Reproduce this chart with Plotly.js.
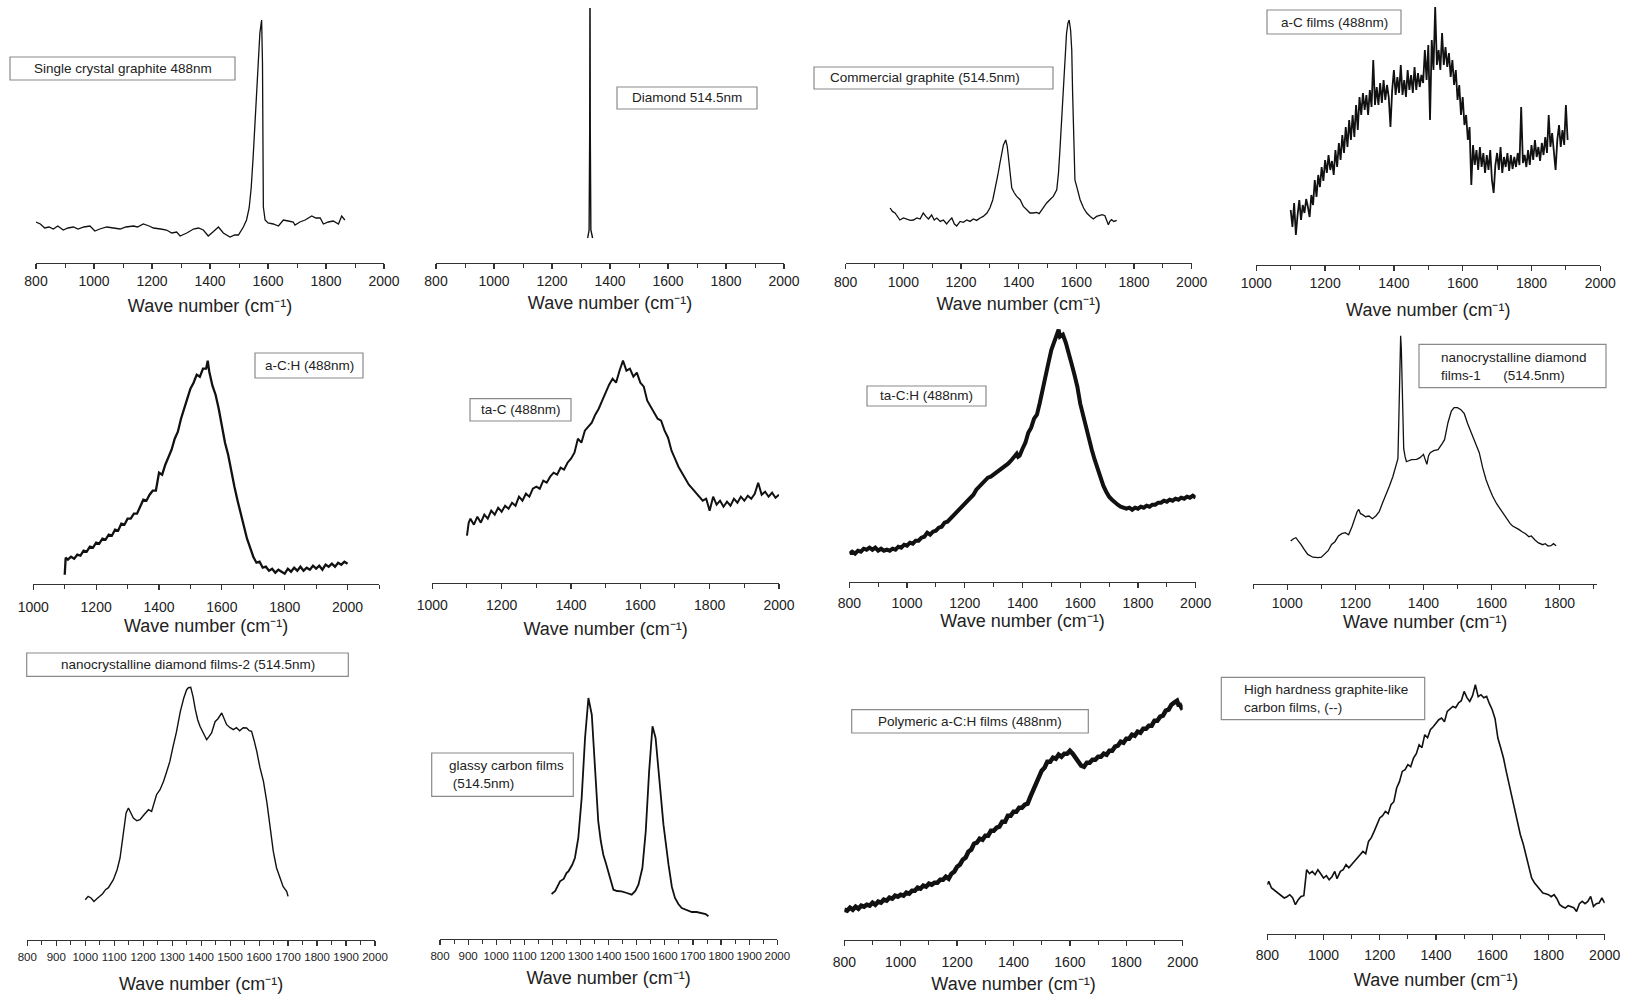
<!DOCTYPE html>
<html><head><meta charset="utf-8">
<script src="https://cdn.plot.ly/plotly-3.0.1.min.js"></script>
<style>html,body{margin:0;padding:0;background:#fff;}#chart{width:1626px;height:994px;}</style>
</head><body><div id="chart"></div>
<script>
// ---- DATA: [wave number (cm-1), intensity (a.u.)] ----
const singleCrystalGraphite = [[800,41],[815,39],[830,35],[845,36],[860,34],[875,37],[894,33],[910,35],[929,36],[945,34],[965,36],[986,37],[1003,32],[1020,34],[1044,36],[1065,35],[1090,34],[1110,36],[1136,37],[1150,36],[1170,39],[1190,37],[1205,35],[1230,34],[1250,33],[1268,30],[1285,31],[1297,27],[1320,30],[1343,34],[1360,35],[1377,33],[1394,27],[1410,31],[1429,36],[1446,30],[1469,26],[1485,28],[1498,28],[1515,36],[1526,43],[1535,55],[1542,75],[1549,107],[1555,140],[1561,170],[1567,205],[1572,230],[1578,243],[1581,200],[1584,56],[1590,43],[1600,40],[1618,39],[1636,37],[1653,43],[1670,42],[1687,41],[1693,38],[1710,41],[1728,43],[1751,47],[1765,45],[1780,45],[1791,39],[1808,41],[1825,42],[1843,39],[1854,47],[1865,43]];

const diamond = [[1323,25],[1328,33],[1330,130],[1331,300],[1332,130],[1334,33],[1340,25]];

const commercialGraphite = [[954,55],[962,51.6],[971,50],[980,46],[988,43],[1000,45],[1012,44],[1024,42.6],[1035,43],[1047,45],[1058,44],[1069,50],[1078,46.6],[1087,44],[1098,48],[1107,43],[1116,45],[1128,41.6],[1139,43],[1150,39],[1160,42.6],[1168,45],[1177,39],[1185,37],[1197,41.6],[1208,40.6],[1220,43],[1231,41.6],[1243,44],[1254,42.6],[1266,45],[1277,46.6],[1290,50],[1300,55],[1310,63],[1318,73],[1327,87],[1335,100],[1341,110],[1347,118],[1355,123],[1360,117],[1364,107],[1370,87],[1376,75],[1385,70],[1393,66.6],[1405,63.3],[1416,56.6],[1428,53.3],[1439,50],[1450,50],[1462,50.6],[1471,49.3],[1480,53.3],[1489,56.6],[1497,60],[1508,63.3],[1520,66.6],[1532,73.3],[1538,90],[1543,113],[1549,146],[1555,180],[1561,210],[1566,230],[1571,240],[1575,243],[1580,233],[1584,213],[1587,170],[1590,130],[1595,83],[1604,73.3],[1613,63.3],[1625,55],[1636,50],[1648,46.6],[1659,44],[1670,46.6],[1682,47.3],[1690,48.3],[1699,47.3],[1705,43.3],[1711,38.3],[1716,41.6],[1722,43.3],[1730,41.6],[1740,42.6]];

const aCFilms = [[1100,55],[1105,38],[1110,62],[1115,30],[1120,50],[1125,65],[1130,45],[1135,60],[1140,52],[1145,66],[1150,58],[1155,48],[1160,70],[1165,60],[1170,85],[1175,68],[1180,90],[1185,78],[1190,98],[1195,84],[1200,105],[1205,92],[1210,110],[1215,95],[1220,104],[1225,90],[1230,115],[1235,98],[1240,122],[1245,105],[1250,130],[1255,112],[1260,138],[1265,118],[1270,145],[1275,125],[1280,150],[1285,128],[1290,160],[1295,135],[1300,168],[1305,150],[1310,172],[1315,155],[1320,170],[1325,150],[1330,175],[1335,158],[1340,205],[1345,160],[1350,178],[1355,160],[1360,182],[1365,162],[1370,185],[1375,165],[1380,180],[1385,168],[1390,138],[1395,175],[1400,195],[1405,170],[1410,188],[1415,172],[1420,200],[1425,170],[1430,185],[1435,168],[1440,195],[1445,175],[1450,190],[1455,172],[1460,198],[1465,175],[1470,192],[1475,178],[1480,190],[1485,182],[1490,215],[1495,185],[1500,220],[1505,145],[1510,225],[1515,195],[1520,258],[1525,200],[1530,215],[1535,195],[1540,232],[1545,200],[1550,218],[1555,198],[1560,212],[1565,188],[1570,205],[1575,180],[1580,195],[1585,165],[1590,180],[1595,150],[1600,168],[1605,140],[1610,150],[1615,125],[1620,138],[1625,80],[1630,120],[1635,100],[1640,115],[1645,95],[1650,118],[1655,98],[1660,112],[1665,92],[1670,110],[1675,95],[1680,115],[1685,85],[1690,72],[1695,100],[1700,112],[1705,95],[1710,118],[1715,92],[1720,108],[1725,98],[1730,112],[1735,94],[1740,110],[1745,96],[1750,108],[1755,98],[1760,112],[1765,100],[1770,158],[1775,102],[1780,110],[1785,98],[1790,115],[1795,100],[1800,120],[1805,105],[1810,125],[1815,108],[1820,118],[1825,104],[1830,122],[1835,110],[1840,128],[1845,112],[1850,150],[1855,118],[1860,132],[1865,112],[1870,95],[1875,125],[1880,140],[1885,118],[1890,135],[1895,120],[1900,160],[1905,125]];

const aCH = [[1100,9],[1103,26],[1110,24],[1120,27],[1130,25],[1140,29],[1150,28],[1160,33],[1170,32],[1180,37],[1190,36],[1200,41],[1210,40],[1220,45],[1230,44],[1240,49],[1250,48],[1260,54],[1270,53],[1280,60],[1290,59],[1300,65],[1310,65],[1320,70],[1330,70],[1340,77],[1350,84],[1360,83],[1370,89],[1380,93],[1390,93],[1400,111],[1410,109],[1420,119],[1430,126],[1440,134],[1450,145],[1460,152],[1470,165],[1480,174],[1490,185],[1500,195],[1510,201],[1520,209],[1530,207],[1540,215],[1550,215],[1555,223],[1560,212],[1570,198],[1580,189],[1590,175],[1600,159],[1610,141],[1620,129],[1630,111],[1640,97],[1650,83],[1660,71],[1670,58],[1680,45],[1690,36],[1700,27],[1710,21],[1720,22],[1730,16],[1740,17],[1750,13],[1760,15],[1770,11],[1780,14],[1790,12],[1800,10],[1810,15],[1820,12],[1830,16],[1840,13],[1850,17],[1860,13],[1870,16],[1880,14],[1890,18],[1900,15],[1910,18],[1920,14],[1930,19],[1940,17],[1950,20],[1960,17],[1970,21],[1980,19],[1990,22],[2000,20]];

const taC = [[1100,47],[1105,60],[1110,64],[1120,58],[1130,66],[1140,60],[1150,68],[1160,64],[1170,72],[1180,68],[1190,75],[1200,71],[1210,77],[1220,74],[1230,80],[1240,77],[1250,86],[1260,82],[1270,89],[1280,86],[1290,94],[1300,96],[1310,94],[1320,102],[1330,100],[1340,106],[1350,110],[1360,108],[1370,115],[1380,113],[1390,120],[1400,124],[1410,130],[1420,144],[1430,140],[1440,152],[1450,156],[1460,160],[1470,168],[1480,174],[1490,182],[1500,190],[1510,198],[1520,204],[1530,200],[1540,212],[1550,222],[1560,212],[1570,214],[1580,206],[1590,210],[1600,200],[1610,196],[1620,182],[1630,176],[1640,170],[1650,164],[1660,162],[1670,152],[1680,145],[1690,132],[1700,124],[1710,116],[1720,110],[1730,104],[1740,98],[1750,94],[1760,90],[1770,86],[1780,82],[1790,84],[1800,72],[1810,86],[1820,78],[1830,82],[1840,76],[1850,81],[1860,77],[1870,84],[1880,80],[1890,86],[1900,82],[1910,87],[1920,84],[1930,89],[1940,100],[1950,88],[1960,91],[1970,86],[1980,90],[1990,85],[2000,88]];

const taCH = [[800,28],[810,30],[820,28],[830,31],[840,30],[850,33],[860,32],[870,34],[880,32],[890,34],[900,31],[910,33],[920,31],[930,32],[940,31],[950,33],[960,32],[970,35],[980,34],[990,37],[1000,36],[1010,39],[1020,38],[1030,41],[1040,41],[1050,44],[1060,45],[1070,49],[1080,47],[1090,50],[1100,51],[1110,54],[1120,55],[1130,59],[1140,60],[1150,63],[1160,66],[1170,69],[1180,72],[1190,74],[1200,77],[1210,80],[1220,84],[1230,87],[1240,92],[1250,95],[1260,98],[1270,100],[1280,104],[1290,105],[1300,107],[1310,109],[1320,112],[1330,113],[1340,116],[1350,118],[1360,121],[1370,124],[1380,128],[1385,125],[1390,126],[1400,133],[1410,139],[1420,149],[1430,154],[1440,163],[1450,167],[1460,179],[1470,191],[1480,206],[1490,219],[1500,232],[1510,241],[1520,248],[1525,252],[1530,245],[1540,247],[1550,239],[1560,230],[1570,218],[1580,207],[1590,195],[1600,178],[1610,166],[1620,152],[1630,142],[1640,132],[1650,122],[1660,113],[1670,104],[1680,96],[1690,90],[1700,85],[1710,82],[1720,79],[1730,77],[1740,75],[1750,74],[1760,73],[1770,74],[1780,72],[1790,74],[1800,73],[1810,75],[1820,74],[1830,76],[1840,75],[1850,77],[1860,77],[1870,79],[1880,79],[1890,81],[1900,80],[1910,82],[1920,81],[1930,83],[1940,82],[1950,84],[1960,83],[1970,85],[1980,84],[1990,86],[2000,84]];

const ncdFilms1 = [[1010,42.7],[1018,45],[1025,46],[1032,43],[1040,39.3],[1050,34],[1060,29.3],[1075,26.5],[1090,26],[1100,26.5],[1110,29.3],[1120,33],[1130,39.3],[1140,42],[1150,47.7],[1160,50],[1170,51],[1180,49],[1190,57],[1200,67.7],[1205,72],[1210,74.3],[1215,70],[1220,69.3],[1230,67],[1240,67.7],[1250,65],[1260,67.7],[1270,72],[1280,81],[1290,89],[1300,97.7],[1310,107],[1320,117.7],[1325,125],[1328,170],[1331,235],[1333,248],[1335,235],[1338,180],[1342,135],[1346,127],[1350,122],[1355,122.7],[1365,124],[1380,124.3],[1390,126],[1400,129.3],[1405,125],[1410,119.3],[1415,128],[1420,131],[1430,133],[1443,134],[1455,140],[1462,144],[1472,161],[1482,172.7],[1490,176],[1500,176],[1510,174],[1520,170],[1530,160],[1544,148],[1554,138],[1564,131],[1574,116],[1584,104],[1594,95],[1603,87.7],[1615,80],[1625,75],[1633,71],[1645,64],[1655,60],[1662,57.7],[1672,56],[1680,54.3],[1690,52],[1700,50],[1710,47],[1717,47.7],[1727,44],[1737,41],[1750,39],[1758,40],[1766,37.7],[1775,38],[1782,40],[1790,38]];

const ncdFilms2 = [[1000,40],[1010,43.3],[1020,41.7],[1030,38.3],[1040,41],[1050,43.3],[1060,46],[1070,50],[1080,52],[1097,60],[1110,70],[1120,81.7],[1131,108],[1141,126.7],[1149,131.7],[1158,126],[1166,121.7],[1178,119],[1189,120],[1200,124],[1210,127],[1218,130],[1229,128.3],[1237,137],[1246,145],[1258,150],[1270,158.3],[1281,168],[1292,178.3],[1303,193],[1315,208],[1328,228],[1340,241.7],[1350,250],[1356,252],[1364,252.4],[1372,243],[1380,230],[1388,220],[1396,213.4],[1408,206],[1419,200],[1427,203],[1436,206.7],[1448,218],[1458,221],[1471,226.7],[1480,220],[1488,215],[1500,212],[1511,210],[1522,212],[1533,209],[1545,212],[1557,211.7],[1566,209],[1574,208.3],[1583,199],[1592,188.3],[1603,172],[1615,158.3],[1627,137],[1638,115],[1649,88.3],[1660,72],[1672,61.7],[1683,53],[1695,48.3],[1700,43.3]];

const glassyCarbon = [[1197,45],[1210,48],[1227,57.7],[1240,60],[1250,66],[1257,67.7],[1270,74],[1280,81],[1292,101],[1304,141],[1316,201],[1328,241],[1340,224.3],[1352,167.7],[1363,117.7],[1372,98],[1381,84.3],[1390,76],[1399,67.7],[1411,54.3],[1417,49.3],[1430,48],[1446,47.7],[1465,46],[1482,44.3],[1495,48],[1506,54.3],[1520,71],[1532,107.7],[1544,167.7],[1556,212.7],[1567,201],[1579,161],[1595,114.3],[1613,74.3],[1625,52],[1636,41],[1648,35],[1660,31],[1678,29],[1696,27],[1713,27],[1731,26],[1745,25],[1755,22.7]];

const polymericACH = [[800,30],[810,29],[820,32],[830,30],[840,33],[850,31],[860,34],[870,33],[880,35],[890,34],[900,37],[910,35],[920,38],[930,37],[940,40],[950,39],[960,42],[970,41],[980,44],[990,43],[1000,45],[1010,44],[1020,47],[1030,46],[1040,49],[1050,49],[1060,52],[1070,51],[1080,54],[1090,53],[1100,56],[1110,55],[1120,57],[1130,57],[1140,60],[1150,60],[1160,63],[1170,61],[1180,66],[1190,68],[1200,73],[1210,75],[1220,80],[1230,82],[1240,88],[1250,90],[1260,96],[1270,97],[1280,101],[1290,100],[1300,104],[1310,104],[1320,109],[1330,109],[1340,112],[1350,113],[1360,118],[1370,118],[1380,124],[1390,124],[1400,128],[1410,128],[1420,132],[1430,132],[1440,135],[1450,136],[1460,143],[1470,149],[1480,157],[1490,162],[1500,169],[1510,172],[1520,178],[1530,178],[1540,182],[1550,181],[1560,185],[1570,183],[1580,186],[1590,186],[1600,189],[1610,186],[1620,182],[1630,177],[1640,174],[1650,173],[1660,177],[1670,177],[1680,180],[1690,180],[1700,183],[1710,183],[1720,186],[1730,185],[1740,189],[1750,189],[1760,193],[1770,194],[1780,198],[1790,197],[1800,201],[1810,201],[1820,205],[1830,204],[1840,208],[1850,207],[1860,211],[1870,211],[1880,214],[1890,214],[1900,219],[1910,219],[1920,223],[1930,224],[1940,229],[1950,230],[1960,235],[1970,237],[1980,239],[1985,235],[1990,235],[2000,230]];

const highHardnessGLC = [[800,49],[805,52.3],[815,45.7],[828,43],[840,40.7],[850,38],[860,35.7],[870,37],[880,39],[890,36],[900,29],[910,34],[920,37.3],[930,38],[940,64],[950,60],[960,62.3],[970,59],[980,64],[990,60],[1000,55.7],[1010,58],[1020,54],[1030,57],[1040,62.3],[1048,55],[1060,62.3],[1070,64],[1080,69],[1090,66],[1100,69],[1110,72],[1120,75.7],[1130,79],[1140,82.3],[1150,80],[1160,92.3],[1170,96],[1180,102.3],[1190,110],[1200,115.7],[1210,118],[1220,122.3],[1230,120],[1240,129],[1250,132],[1260,145.7],[1270,152],[1280,162.3],[1290,164],[1300,169],[1310,167],[1320,175.7],[1330,180],[1340,189],[1350,186],[1360,199],[1370,196],[1380,204],[1390,207],[1400,210.7],[1410,214],[1420,215.7],[1430,212],[1440,222.3],[1450,225],[1460,227.3],[1470,226],[1480,230.7],[1490,233],[1500,242.3],[1510,236],[1520,232.3],[1530,238],[1540,249],[1550,237],[1560,239],[1570,236],[1580,237.3],[1590,230],[1600,224],[1610,215],[1620,195.7],[1630,186],[1640,175.7],[1650,162],[1660,149],[1670,135],[1680,122.3],[1690,110],[1700,99],[1710,90],[1720,79],[1730,67],[1740,55.7],[1750,51],[1760,47.3],[1770,44],[1780,40.7],[1790,40],[1800,39],[1810,37],[1820,39],[1830,35],[1840,29],[1850,27],[1860,25.7],[1870,28],[1880,27.3],[1890,26],[1900,22.3],[1910,30],[1920,32.3],[1930,30],[1940,32.3],[1950,37.3],[1960,27.3],[1970,30],[1980,30.7],[1990,35.7],[2000,30.7]];

const sampleLabels = ['Single crystal graphite 488nm','Diamond 514.5nm','Commercial graphite (514.5nm)','a-C films (488nm)','a-C:H (488nm)','ta-C (488nm)','ta-C:H (488nm)','nanocrystalline diamond<br>films-1\u00a0\u00a0\u00a0\u00a0\u00a0\u00a0(514.5nm)','nanocrystalline diamond films-2 (514.5nm)','glassy carbon films<br>\u00a0(514.5nm)','Polymeric a-C:H films (488nm)','High hardness graphite-like<br>carbon films, (--)'];
const axisTitle = 'Wave number (cm\u207B\u00B9)';

// ---- LAYOUT (pixel geometry of each panel) ----
const W = 1626, H = 994;
const FONT = 'Liberation Sans, Arial, Helvetica, sans-serif';
const panels = [
  {data:singleCrystalGraphite, xr:[800,2000], px:[36,384], axisY:263, top:8, tick0:800, dtick:200, minor:100, tls:0, so:11, lw:1.3, box:[10,57,235,80], tx:'c'},
  {data:diamond, xr:[800,2000], px:[436,784], axisY:263, top:8, tick0:800, dtick:200, minor:100, tls:0, so:8, lw:1.4, box:[617,87,757,109], tx:'c'},
  {data:commercialGraphite, xr:[800,2000], px:[845.7,1191.7], axisY:263, top:8, tick0:800, dtick:200, minor:100, tls:1, so:8, lw:1.3, box:[814,67,1053,89], tx:828},
  {data:aCFilms, xr:[1000,2000], px:[1256.3,1600.3], axisY:265, top:5, tick0:1000, dtick:200, minor:100, tls:0, so:13, lw:1.8, box:[1267,10,1401,34], tx:'c'},
  {data:aCH, xr:[1000,2100], px:[33.3,379], axisY:583.7, top:340, tick0:1000, dtick:200, minor:100, tls:5, so:5, lw:2.3, box:[255,353,363,378], tx:'c'},
  {data:taC, xr:[1000,2000], px:[432.3,779], axisY:582.7, top:330, tick0:1000, dtick:200, minor:100, tls:4, so:10, lw:2, box:[470,398.7,571,421], tx:'c'},
  {data:taCH, xr:[800,2000], px:[849.3,1195.7], axisY:581.7, top:320, tick0:800, dtick:200, minor:100, tls:3, so:0, lw:4, box:[867,386,986,406], tx:'c'},
  {data:ncdFilms1, xr:[900,1910], px:[1253.3,1597], axisY:583.7, top:320, tick0:1000, dtick:200, minor:100, tls:1, so:5, lw:1.3, box:[1419,344.3,1606,387.7], tx:1438.7},
  {data:ncdFilms2, xr:[800,2000], px:[27.3,375], axisY:939.7, top:650, tick0:800, dtick:100, minor:50, tls:1, so:20, lw:1.4, box:[26.7,653,348.3,676.3], tx:'c', small:true},
  {data:glassyCarbon, xr:[800,2000], px:[440,777.3], axisY:939, top:650, tick0:800, dtick:100, minor:50, tls:1, so:10, lw:1.8, box:[431.7,753,573.3,796.3], tx:446.7, small:true},
  {data:polymericACH, xr:[800,2000], px:[844.3,1182.7], axisY:939.7, top:650, tick0:800, dtick:200, minor:100, tls:4, so:20, lw:4.5, box:[851.7,709.7,1088.3,733], tx:'c'},
  {data:highHardnessGLC, xr:[800,2000], px:[1267.3,1604.7], axisY:933.7, top:650, tick0:800, dtick:200, minor:100, tls:3, so:11, lw:1.6, box:[1221.3,677.3,1424.7,719.7], tx:1242}
];

const traces = [], shapes = [], annotations = [];
const layout = {width:W, height:H, margin:{l:0,r:0,t:0,b:0}, showlegend:false,
  paper_bgcolor:'#ffffff', plot_bgcolor:'rgba(0,0,0,0)', font:{family:FONT, color:'#222'},
  shapes:shapes, annotations:annotations};

panels.forEach((p, i) => {
  const s = i === 0 ? '' : String(i + 1);
  traces.push({type:'scatter', mode:'lines', x:p.data.map(d => d[0]), y:p.data.map(d => d[1]),
    xaxis:'x' + s, yaxis:'y' + s, line:{color:'#111', width:p.lw, shape:'linear'}, hoverinfo:'skip', name:sampleLabels[i]});
  layout['xaxis' + s] = {domain:[p.px[0] / W, p.px[1] / W], range:p.xr, anchor:'y' + s,
    showline:true, linecolor:'#333', linewidth:1.2, ticks:'outside', ticklen:5, tickwidth:1.2, tickcolor:'#333',
    tickmode:'linear', tick0:p.tick0, dtick:p.dtick,
    minor:{dtick:p.minor, ticks:'outside', ticklen:4, tickwidth:1, tickcolor:'#333', showgrid:false},
    showgrid:false, zeroline:false, tickangle:0, ticklabelstandoff:p.tls,
    tickfont:{family:FONT, size:p.small ? 11.5 : 14, color:'#222'},
    title:{text:axisTitle, font:{family:FONT, size:18, color:'#222'}, standoff:p.so}, fixedrange:true};
  layout['yaxis' + s] = {domain:[1 - p.axisY / H, 1 - p.top / H], range:[0, p.axisY - p.top], anchor:'x' + s,
    visible:false, fixedrange:true};
  const b = p.box;
  shapes.push({type:'rect', xref:'paper', yref:'paper', x0:b[0] / W, x1:b[2] / W, y0:1 - b[3] / H, y1:1 - b[1] / H,
    line:{color:'#8a8a8a', width:1.2}, fillcolor:'#ffffff', layer:'above'});
  const centered = p.tx === 'c';
  annotations.push({xref:'paper', yref:'paper', x:(centered ? (b[0] + b[2]) / 2 : p.tx) / W, y:1 - ((b[1] + b[3]) / 2) / H,
    xanchor:centered ? 'center' : 'left', yanchor:'middle', align:'left', showarrow:false,
    text:sampleLabels[i], font:{family:FONT, size:13.5, color:'#222'}});
});

Plotly.newPlot('chart', traces, layout, {staticPlot:true, displayModeBar:false});
</script></body></html>
